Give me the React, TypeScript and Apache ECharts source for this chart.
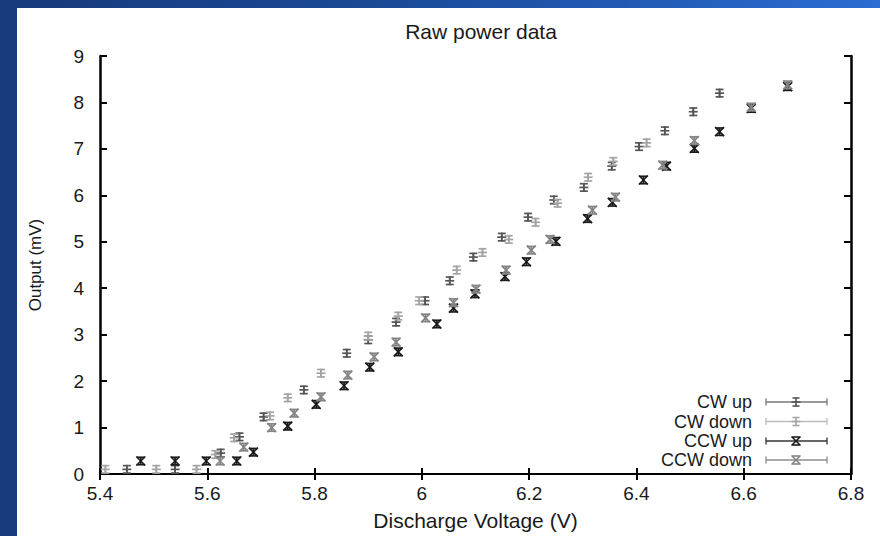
import React, { useEffect, useRef } from "react";
import * as echarts from "echarts";

// ---- data ----
const SERIES_NAMES = ["CW up", "CW down", "CCW up", "CCW down"];
const X_TICKS = [5.4, 5.6, 5.8, 6, 6.2, 6.4, 6.6, 6.8];
const Y_TICKS = [0, 1, 2, 3, 4, 5, 6, 7, 8, 9];

const CW_UP: [number, number][] = [
  [5.45, 0.1], [5.54, 0.1], [5.625, 0.45], [5.66, 0.8], [5.705, 1.23], [5.78, 1.81],
  [5.86, 2.6], [5.9, 2.89], [5.952, 3.27], [6.006, 3.73], [6.052, 4.16], [6.096, 4.67],
  [6.149, 5.1], [6.198, 5.53], [6.246, 5.9], [6.302, 6.17], [6.354, 6.63], [6.405, 7.05],
  [6.453, 7.39], [6.506, 7.8], [6.555, 8.2],
];
const CW_DOWN: [number, number][] = [
  [5.41, 0.1], [5.505, 0.1], [5.58, 0.1], [5.615, 0.42], [5.65, 0.78], [5.717, 1.25],
  [5.75, 1.64], [5.812, 2.17], [5.9, 2.97], [5.956, 3.4], [5.995, 3.73], [6.065, 4.39],
  [6.113, 4.77], [6.162, 5.05], [6.212, 5.42], [6.253, 5.83], [6.31, 6.39], [6.357, 6.73],
  [6.419, 7.13],
];
const CCW_UP: [number, number][] = [
  [5.476, 0.28], [5.54, 0.28], [5.598, 0.28], [5.655, 0.28], [5.686, 0.47], [5.75, 1.03],
  [5.803, 1.5], [5.855, 1.9], [5.903, 2.3], [5.956, 2.63], [6.028, 3.23], [6.059, 3.57],
  [6.099, 3.88], [6.155, 4.25], [6.195, 4.57], [6.25, 5.01], [6.309, 5.5], [6.355, 5.85],
  [6.413, 6.33], [6.456, 6.63], [6.508, 7.01], [6.555, 7.37], [6.614, 7.87], [6.682, 8.34],
];
const CCW_DOWN: [number, number][] = [
  [5.624, 0.28], [5.668, 0.58], [5.72, 1.0], [5.762, 1.31], [5.812, 1.66], [5.862, 2.13],
  [5.911, 2.52], [5.952, 2.84], [6.007, 3.36], [6.059, 3.69], [6.101, 3.98], [6.157, 4.39],
  [6.204, 4.82], [6.239, 5.05], [6.318, 5.68], [6.361, 5.96], [6.449, 6.65], [6.508, 7.18],
  [6.614, 7.9], [6.682, 8.38],
];
const ERRORS = [0.08, 0.08, 0.08, 0.08];

const SERIES_DATA = [CW_UP, CW_DOWN, CCW_UP, CCW_DOWN];
const MARKERS: ("plus" | "cross")[] = ["plus", "plus", "cross", "cross"];
const COLORS = ["#555555", "#a4a4a4", "#1a1a1a", "#858585"];
const LEGEND_LINE_COLORS = ["#777777", "#bbbbbb", "#333333", "#8c8c8c"];

const FONT = '"Liberation Sans", Arial, Helvetica, sans-serif';

function markerChildren(kind: "plus" | "cross", cx: number, cy: number, st: any) {
  const m = 4.5;
  if (kind === "plus") {
    return [
      { type: "line", shape: { x1: cx - m, y1: cy, x2: cx + m, y2: cy }, style: st },
      { type: "line", shape: { x1: cx, y1: cy - m, x2: cx, y2: cy + m }, style: st },
    ];
  }
  return [
    { type: "line", shape: { x1: cx - m, y1: cy - m, x2: cx + m, y2: cy + m }, style: st },
    { type: "line", shape: { x1: cx - m, y1: cy + m, x2: cx + m, y2: cy - m }, style: st },
  ];
}

function makeRender(kind: "plus" | "cross", color: string) {
  return (params: any, api: any) => {
    const x = api.value(0);
    const y = api.value(1);
    const lo = api.value(2);
    const hi = api.value(3);
    const c = api.coord([x, y]);
    const a = api.coord([x, lo]);
    const b = api.coord([x, hi]);
    const st = { stroke: color, lineWidth: 1.7 };
    const cap = 4;
    const children: any[] = [
      { type: "line", shape: { x1: c[0], y1: a[1], x2: c[0], y2: b[1] }, style: st },
      { type: "line", shape: { x1: c[0] - cap, y1: a[1], x2: c[0] + cap, y2: a[1] }, style: st },
      { type: "line", shape: { x1: c[0] - cap, y1: b[1], x2: c[0] + cap, y2: b[1] }, style: st },
      ...markerChildren(kind, c[0], c[1], st),
    ];
    return { type: "group", children };
  };
}

function legendGraphics() {
  const rows = [402, 421.5, 441, 460];
  const els: any[] = [];
  SERIES_NAMES.forEach((name, i) => {
    const y = rows[i];
    const lc = LEGEND_LINE_COLORS[i];
    const st = { stroke: lc, lineWidth: 1.3 };
    els.push({
      type: "text",
      style: {
        text: name, x: 752, y, fill: "#1a1a1a", font: `18px ${FONT}`,
        align: "right", verticalAlign: "middle", textAlign: "right", textVerticalAlign: "middle",
      },
    });
    els.push({ type: "line", shape: { x1: 766, y1: y, x2: 827, y2: y }, style: st });
    els.push({ type: "line", shape: { x1: 766, y1: y - 3.5, x2: 766, y2: y + 3.5 }, style: st });
    els.push({ type: "line", shape: { x1: 827, y1: y - 3.5, x2: 827, y2: y + 3.5 }, style: st });
    const mst = { stroke: COLORS[i], lineWidth: 1.6 };
    markerChildren(MARKERS[i], 796, y, mst).forEach((e) => els.push(e));
    els.push({ type: "line", shape: { x1: 792.5, y1: y - 4, x2: 799.5, y2: y - 4 }, style: mst });
    els.push({ type: "line", shape: { x1: 792.5, y1: y + 4, x2: 799.5, y2: y + 4 }, style: mst });
  });
  return els;
}

export default function App() {
  const ref = useRef<HTMLDivElement>(null);
  useEffect(() => {
    if (!ref.current) return;
    const chart = echarts.init(ref.current, undefined, { renderer: "svg" });
    const axisLine = (w: number) => ({ show: true, lineStyle: { color: "#000", width: w } });
    const option: any = {
      animation: false,
      backgroundColor: "transparent",
      title: {
        text: "Raw power data",
        left: 476,
        top: 16,
        textAlign: "center",
        textStyle: { fontFamily: FONT, fontSize: 21, fontWeight: "normal", color: "#1a1a1a" },
      },
      grid: { left: 100, right: 29, top: 56, bottom: 62, containLabel: false },
      xAxis: [
        {
          type: "value", min: 5.4, max: 6.8, interval: 0.2,
          name: "Discharge Voltage (V)", nameLocation: "middle", nameGap: 36,
          nameTextStyle: { fontFamily: FONT, fontSize: 21, color: "#1a1a1a" },
          axisLine: axisLine(2),
          axisTick: { show: true, inside: true, length: 6, lineStyle: { color: "#000", width: 2 } },
          axisLabel: {
            fontFamily: FONT, fontSize: 19, color: "#1a1a1a", margin: 10,
            formatter: (v: number) => {
              const t = X_TICKS.find((k) => Math.abs(k - v) < 1e-6);
              return t === undefined ? "" : String(t);
            },
          },
          splitLine: { show: false },
        },
        {
          type: "value", position: "top", min: 5.4, max: 6.8, interval: 0.2,
          axisLine: axisLine(2),
          axisTick: { show: true, inside: true, length: 6, lineStyle: { color: "#000", width: 2 } },
          axisLabel: { show: false },
          splitLine: { show: false },
        },
      ],
      yAxis: [
        {
          type: "value", min: 0, max: 9, interval: 1,
          name: "Output (mV)", nameLocation: "middle", nameGap: 56, nameRotate: 90,
          nameTextStyle: { fontFamily: FONT, fontSize: 17, color: "#1a1a1a" },
          axisLine: axisLine(2.5),
          axisTick: { show: true, inside: true, length: 7, lineStyle: { color: "#000", width: 2 } },
          axisLabel: {
            fontFamily: FONT, fontSize: 19, color: "#1a1a1a", margin: 16,
            formatter: (v: number) => {
              const t = Y_TICKS.find((k) => Math.abs(k - v) < 1e-6);
              return t === undefined ? "" : String(t);
            },
          },
          splitLine: { show: false },
        },
        {
          type: "value", position: "right", min: 0, max: 9, interval: 1,
          axisLine: axisLine(2.5),
          axisTick: { show: true, inside: true, length: 7, lineStyle: { color: "#000", width: 2 } },
          axisLabel: { show: false },
          splitLine: { show: false },
        },
      ],
      series: SERIES_DATA.map((pts, i) => ({
        type: "custom",
        name: SERIES_NAMES[i],
        xAxisIndex: 0,
        yAxisIndex: 0,
        encode: { x: 0, y: 1 },
        clip: false,
        z: 3,
        itemStyle: { color: COLORS[i] },
        renderItem: makeRender(MARKERS[i], COLORS[i]),
        data: pts.map(([x, y]) => [x, y, y - ERRORS[i], y + ERRORS[i]]),
      })),
      graphic: legendGraphics(),
    };
    chart.setOption(option);
    return () => chart.dispose();
  }, []);

  return (
    <div
      style={{
        position: "fixed", left: 0, top: 0, width: 880, height: 536, overflow: "hidden",
        background: "linear-gradient(90deg, #163a7a 0%, #1b4a98 45%, #2a6cd2 100%)",
      }}
    >
      <div style={{ position: "absolute", left: 17, top: 8, right: 0, bottom: 0, background: "#ffffff" }} />
      <div ref={ref} style={{ position: "absolute", left: 0, top: 0, width: 880, height: 536 }} />
    </div>
  );
}
